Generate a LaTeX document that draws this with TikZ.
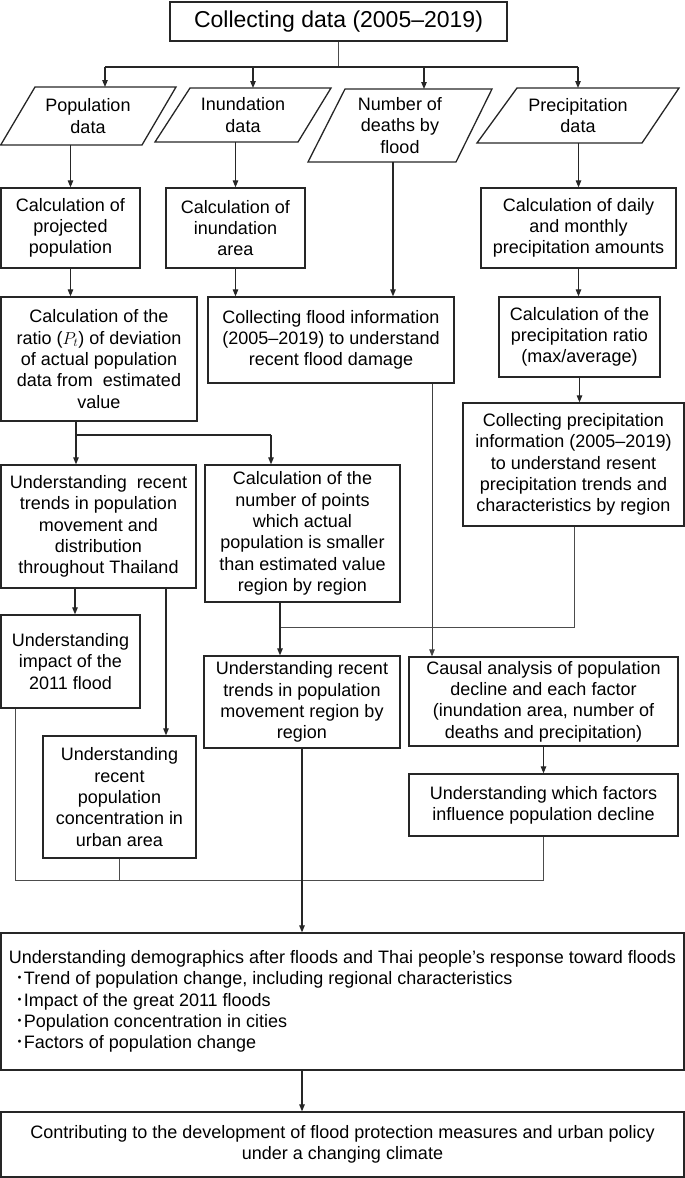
\documentclass[tikz,border=0pt]{standalone}
\usepackage{fontspec}
\setmainfont{Liberation Sans}
\newfontfamily\cjkfont{Noto Sans CJK JP}
\usetikzlibrary{arrows.meta,calc}
\newcommand\bulitem{\hspace*{7pt}{\cjkfont ･}\hspace{-1pt}}
\begin{document}
\begin{tikzpicture}[x=1pt,y=-1pt,
  outline/.style={draw=black!85, line width=1.3pt},
  box/.style={outline, align=center, inner sep=0pt, font=\fontsize{18}{21.3}\selectfont},
  txt/.style={align=center, inner sep=0pt, font=\fontsize{18}{21.3}\selectfont},
  arr/.style={draw=black!85, line width=1.1pt, -{Triangle[length=7pt,width=5.5pt]}},
  arrthin/.style={draw=black!75, line width=0.8pt, -{Triangle[length=7pt,width=5.5pt]}},
  ln/.style={draw=black!70, line width=0.8pt},
  lnd/.style={draw=black!85, line width=1.1pt}]
\useasboundingbox (0,0) rectangle (685,1178);

% top box
\node[box, minimum width=337pt, minimum height=39pt, font=\fontsize{23}{27}\selectfont] (T) at (338.5,21.5) {Collecting data (2005–2019)};

% parallelograms
\draw[outline] (35,87) -- (176,87) -- (142,145) -- (0.7,145) -- cycle;
\node[txt] (P1) at (88,116) {Population\\data};
\draw[outline] (190,88) -- (331,88) -- (298,142) -- (155,142) -- cycle;
\node[txt] (P2) at (243,115) {Inundation\\data};
\draw[outline] (345,89) -- (492,89) -- (456,162) -- (308,162) -- cycle;
\node[txt] (P3) at (400,125.5) {Number of\\deaths by\\flood};
\draw[outline] (517,88) -- (679,88) -- (642,143) -- (477,143) -- cycle;
\node[txt] (P4) at (578,115.5) {Precipitation\\data};

\coordinate (P1t) at (105,87);
\coordinate (P2t) at (253,88);
\coordinate (P3t) at (424,89);
\coordinate (P4t) at (578,88);
\coordinate (P1b) at (70.5,145);
\coordinate (P2b) at (235.5,142);
\coordinate (P3b) at (393,162);
\coordinate (P4b) at (578.5,143);

% boxes
\node[box, minimum width=139pt, minimum height=80pt] (B1) at (70.5,228) {Calculation of\\projected\\population};
\node[box, minimum width=139pt, minimum height=80pt] (B2) at (235.5,228) {Calculation of\\inundation\\area};
\node[box, minimum width=195pt, minimum height=80pt] (B3) at (578.5,228) {Calculation of daily\\and monthly\\precipitation amounts};
\node[box, minimum width=196pt, minimum height=124pt] (B4) at (99,359) {Calculation of the\\ratio ($P_t$) of deviation\\of actual population\\data from \ estimated\\value};
\node[box, minimum width=246pt, minimum height=86pt] (B5) at (331,340) {Collecting flood information\\(2005–2019) to understand\\recent flood damage};
\node[box, minimum width=161pt, minimum height=80pt] (B6) at (579.5,337) {Calculation of the\\precipitation ratio\\(max/average)};
\node[box, minimum width=221pt, minimum height=123pt] (B7) at (573.5,464.5) {Collecting precipitation\\information (2005–2019)\\to understand resent\\precipitation trends and\\characteristics by region};
\node[box, minimum width=195pt, minimum height=123pt] (B8) at (98.5,526.5) {Understanding \ recent\\trends in population\\movement and\\distribution\\throughout Thailand};
\node[box, minimum width=195pt, minimum height=137pt] (B9) at (302.5,533.5) {Calculation of the\\number of points\\which actual\\population is smaller\\than estimated value\\region by region};
\node[box, minimum width=139pt, minimum height=93pt] (B10) at (70.5,661.5) {Understanding\\impact of the\\2011 flood};
\node[box, minimum width=153pt, minimum height=122pt] (B11) at (119.5,797) {Understanding\\recent\\population\\concentration in\\urban area};
\node[box, minimum width=196pt, minimum height=92pt] (B12) at (302,702) {Understanding recent\\trends in population\\movement region by\\region};
\node[box, minimum width=269pt, minimum height=89pt] (B13) at (543.5,701.5) {Causal analysis of population\\decline and each factor\\(inundation area, number of\\deaths and precipitation)};
\node[box, minimum width=269pt, minimum height=62pt] (B14) at (543.5,805) {Understanding which factors\\influence population decline};
\node[box, minimum width=683pt, minimum height=137pt, align=left] (B15) at (342.5,1001.5) {Understanding demographics after floods and Thai people’s response toward floods\\
\bulitem Trend of population change, including regional characteristics\\
\bulitem Impact of the great 2011 floods\\
\bulitem Population concentration in cities\\
\bulitem Factors of population change};
\node[box, minimum width=683pt, minimum height=65pt] (B16) at (342.5,1144.5) {Contributing to the development of flood protection measures and urban policy\\under a changing climate};

% junction coordinates
\coordinate (j1) at (105,67);
\coordinate (j2) at (253,67);
\coordinate (j3) at (424,67);
\coordinate (j4) at (578,67);
\coordinate (s1) at (76,435);
\coordinate (s2) at (271,435);
\coordinate (f1) at (432,0);
\coordinate (q1) at (574,627);
\coordinate (q2) at (280,627);
\coordinate (u1) at (75,0);
\coordinate (u2) at (166,0);
\coordinate (w1) at (15,880);
\coordinate (w2) at (119.5,880);
\coordinate (w3) at (543.5,880);

% connectors
\draw[ln] (T.south) -- (T.south |- j1);
\draw[lnd] (j1) -- (j4);
\draw[arr] (j1) -- (P1t);
\draw[arr] (j2) -- (P2t);
\draw[arr] (j3) -- (P3t);
\draw[arr] (j4) -- (P4t);
\draw[arr] (P1b) -- (B1.north);
\draw[arr] (P2b) -- (B2.north);
\draw[arr] (P3b) -- (P3b |- B5.north);
\draw[arr] (P4b) -- (B3.north);
\draw[arr] (B1.south) -- (B1.south |- B4.north);
\draw[arr] (B2.south) -- (B2.south |- B5.north);
\draw[arr] (B3.south) -- (B3.south |- B6.north);
\draw[arr] (B6.south) -- (B6.south |- B7.north);
\draw[lnd] (B4.south -| s1) -- (s1) -- (s2);
\draw[arr] (s1) -- (s1 |- B8.north);
\draw[arr] (s2) -- (s2 |- B9.north);
\draw[arrthin] (B5.south -| f1) -- (B13.north -| f1);
\draw[ln] (B7.south -| q1) -- (q1) -- (q2);
\draw[arr] (B9.south -| q2) -- (B12.north -| q2);
\draw[arr] (B8.south -| u1) -- (B10.north -| u1);
\draw[arr] (B8.south -| u2) -- (B11.north -| u2);
\draw[arr] (B13.south) -- (B14.north);
\draw[ln] (B10.south -| w1) -- (w1) -- (w3) -- (B14.south);
\draw[ln] (B11.south) -- (w2);
\draw[arr] (B12.south) -- (B12.south |- B15.north);
\draw[arr] (B15.south -| B12.south) -- (B16.north -| B12.south);
\end{tikzpicture}
\end{document}
